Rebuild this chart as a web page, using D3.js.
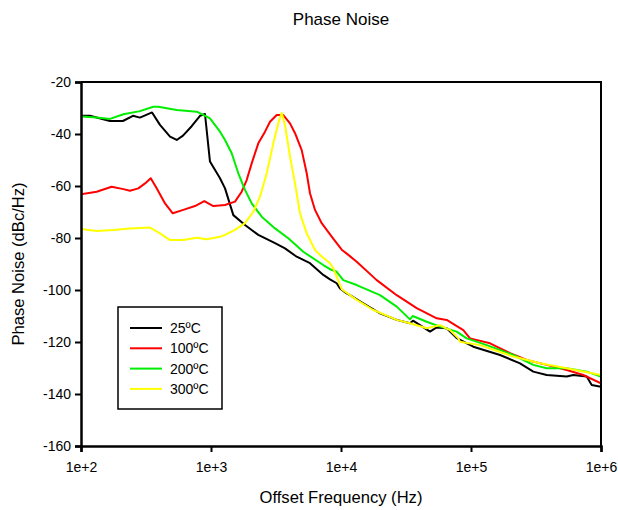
<!DOCTYPE html>
<html lang="en">
<script src='https://d3js.org/d3.v7.min.js'></script>
<head>
    <meta charset="UTF-8">
    <title>Phase Noise</title>
    <style>
        body { margin: 0; background: #fff; }
        text { font-family: "Liberation Sans", Arial, sans-serif; fill: #000; }
    </style>
</head>
<body onload='init()'>
<svg width=618 height=510></svg>
<script>
    // 25 C
    var freq25 = [100, 117, 167, 210, 251, 284, 352, 405, 484, 545, 609, 710, 823, 899, 982, 1173, 1282, 1485, 1826, 2311, 3108, 3709, 4563, 5774, 7308, 8231, 9267, 9825, 11060, 11730, 14845, 19953, 26833, 33953, 35800, 40530, 48360, 54480, 65040, 77620, 104160, 167170, 238230, 301500, 382200, 544800, 612200, 776200, 848200, 1000000];
    var pn25 = [-33, -33, -35, -35, -33, -33.7, -31.7, -36.5, -41, -42.3, -40.6, -37, -33, -32.3, -50.6, -57, -60.9, -71.2, -75, -78.8, -82, -84, -87.2, -89.7, -94.2, -95.9, -97.4, -99.4, -101.3, -102, -105.1, -109, -111.5, -112.8, -111.8, -113.5, -116, -114.4, -114.7, -118.5, -121.8, -125, -128.2, -131.4, -132.7, -133.3, -132.7, -133.3, -136.5, -137.2];

    // 100 C
    var freq100 = [100, 132, 172, 212, 238, 276, 311, 344, 382, 443, 508, 612, 753, 888, 1042, 1282, 1530, 1722, 1882, 2056, 2311, 2603, 2843, 3202, 3599, 4053, 4429, 4985, 5448, 5774, 6310, 7103, 8482, 9267, 10125, 11383, 13207, 18826, 26833, 38220, 54480, 65040, 87270, 98240, 140010, 199530, 268270, 382200, 544800, 730800, 1000000];
    var pn100 = [-63.2, -62.2, -60.3, -61.2, -61.8, -60.9, -59, -57, -60.9, -66.7, -70.5, -69.2, -67.7, -65.8, -67.7, -67.3, -66, -62.2, -57.7, -51.3, -43.6, -39.1, -35.3, -32.7, -32.7, -35.9, -39.7, -46.2, -55.1, -62.8, -69.2, -74.3, -79.5, -82, -84.5, -86.5, -89.1, -96.2, -102, -107, -110.9, -111.5, -115.4, -118.6, -120.5, -124.3, -126.9, -128.8, -130.8, -132.7, -135.9];

    // 200 C
    var freq200 = [100, 132, 167, 212, 284, 360, 393, 545, 776, 927, 982, 1173, 1282, 1443, 1622, 1826, 2056, 2455, 3108, 3932, 5129, 7308, 8231, 9267, 10416, 13207, 19953, 26833, 33953, 35607, 45620, 57740, 77620, 92670, 132060, 211550, 301500, 382200, 544800, 776200, 1000000];
    var pn200 = [-33.3, -33.7, -34.2, -32.4, -31.2, -29.5, -29.5, -30.8, -31.4, -33.3, -34, -39.1, -42.3, -47.4, -55.1, -61.5, -66.7, -71.8, -76.3, -80.1, -85.3, -90.4, -92, -93, -96.2, -98.1, -102, -106.4, -111.3, -110, -112.2, -114.1, -116, -118.6, -121.2, -125, -128.8, -130.1, -130.1, -131.4, -133.3];

    // 300 C
    var freq300 = [100, 132, 177, 238, 340, 405, 484, 612, 776, 927, 1173, 1282, 1530, 1826, 2116, 2382, 2683, 3015, 3294, 3500, 3709, 4053, 4429, 4836, 5448, 6310, 6894, 8231, 8727, 10125, 13207, 17727, 26833, 33953, 45620, 57740, 68940, 79850, 82310, 117290, 211550, 339530, 544800, 1000000];
    var pn300 = [-76.5, -77.3, -76.9, -76.3, -76, -78.2, -80.8, -80.8, -79.9, -80.5, -79.5, -78.8, -76.9, -74.3, -69.9, -64.1, -55.1, -43.6, -35.9, -31.8, -36.5, -48.7, -59, -70.5, -78.2, -84.6, -86.5, -89.7, -91.7, -99.7, -103.8, -107.7, -111.5, -112.8, -114.7, -113.5, -115.4, -118.6, -119.9, -121.2, -125.6, -128.2, -130.1, -132.7];

    var seriesNames = ["25ºC", "100ºC", "200ºC", "300ºC"];
    var seriesColors = ["#000000", "#ff0000", "#00ee00", "#ffff00"];
    var xTicks = [1e2, 1e3, 1e4, 1e5, 1e6];
    var yTicks = [-20, -40, -60, -80, -100, -120, -140, -160];

    function init() {
        var series = [
            {name: seriesNames[0], color: seriesColors[0], f: freq25, v: pn25},
            {name: seriesNames[1], color: seriesColors[1], f: freq100, v: pn100},
            {name: seriesNames[2], color: seriesColors[2], f: freq200, v: pn200},
            {name: seriesNames[3], color: seriesColors[3], f: freq300, v: pn300}
        ];
        drawChart(series);
    }

    function drawChart(series) {
        var left = 81, right = 601, top = 82, bottom = 446;
        var svg = d3.select("svg");

        var xs = d3.scaleLog().domain([1e2, 1e6]).range([left, right]);
        var ys = d3.scaleLinear().domain([-160, -20]).range([bottom, top]);

        // title + axis titles
        svg.append("text").attr("x", 341).attr("y", 25)
            .attr("text-anchor", "middle").style("font-size", "17px")
            .text("Phase Noise");
        svg.append("text").attr("x", 341).attr("y", 503)
            .attr("text-anchor", "middle").style("font-size", "16.6px")
            .text("Offset Frequency (Hz)");
        svg.append("text")
            .attr("transform", "translate(24," + ((top + bottom) / 2) + ") rotate(-90)")
            .attr("text-anchor", "middle").style("font-size", "16.6px")
            .text("Phase Noise (dBc/Hz)");

        // lines, clipped to plot
        svg.append("clipPath").attr("id", "clip")
            .append("rect").attr("x", left).attr("y", top)
            .attr("width", right - left).attr("height", bottom - top);

        var line = d3.line()
            .x(d => xs(d[0]))
            .y(d => ys(d[1]));

        svg.append("g").attr("clip-path", "url(#clip)")
            .selectAll("path")
            .data(series)
            .enter()
            .append("path")
            .attr("d", s => line(s.f.map((f, i) => [f, s.v[i]])))
            .attr("fill", "none")
            .attr("stroke", s => s.color)
            .attr("stroke-width", 2)
            .attr("stroke-linejoin", "round");

        // frame top/right
        svg.append("path")
            .attr("d", "M" + left + "," + top + "H" + right + "V" + bottom)
            .attr("fill", "none").attr("stroke", "#000").attr("stroke-width", 2);

        var xAxis = svg.append("g")
            .attr("transform", "translate(0," + bottom + ")")
            .call(d3.axisBottom(xs).tickValues(xTicks)
                .tickFormat(d => "1e+" + Math.round(Math.log10(d)))
                .tickSizeOuter(0).tickSize(6).tickPadding(10));
        var yAxis = svg.append("g")
            .attr("transform", "translate(" + left + ",0)")
            .call(d3.axisLeft(ys).tickValues(yTicks)
                .tickFormat(d => "-" + Math.abs(d))
                .tickSizeOuter(0).tickSize(6).tickPadding(4));

        [xAxis, yAxis].forEach(function (ax) {
            ax.select(".domain").attr("stroke-width", 2.5);
            ax.selectAll(".tick line").attr("stroke-width", 2);
            ax.selectAll("text").style("font-size", "14px")
                .style("font-family", '"Liberation Sans", Arial, sans-serif');
        });

        // legend
        var lg = svg.append("g");
        lg.append("rect").attr("x", 118).attr("y", 307).attr("width", 104).attr("height", 102)
            .attr("fill", "#fff").attr("stroke", "#000").attr("stroke-width", 1.5);
        series.forEach(function (s, i) {
            var yy = 328 + i * 20.3;
            lg.append("line").attr("x1", 130).attr("x2", 162).attr("y1", yy).attr("y2", yy)
                .attr("stroke", s.color).attr("stroke-width", 2);
            lg.append("text").attr("x", 170).attr("y", yy + 5)
                .style("font-size", "14px").text(s.name);
        });
    }
</script>
</body>
</html>
